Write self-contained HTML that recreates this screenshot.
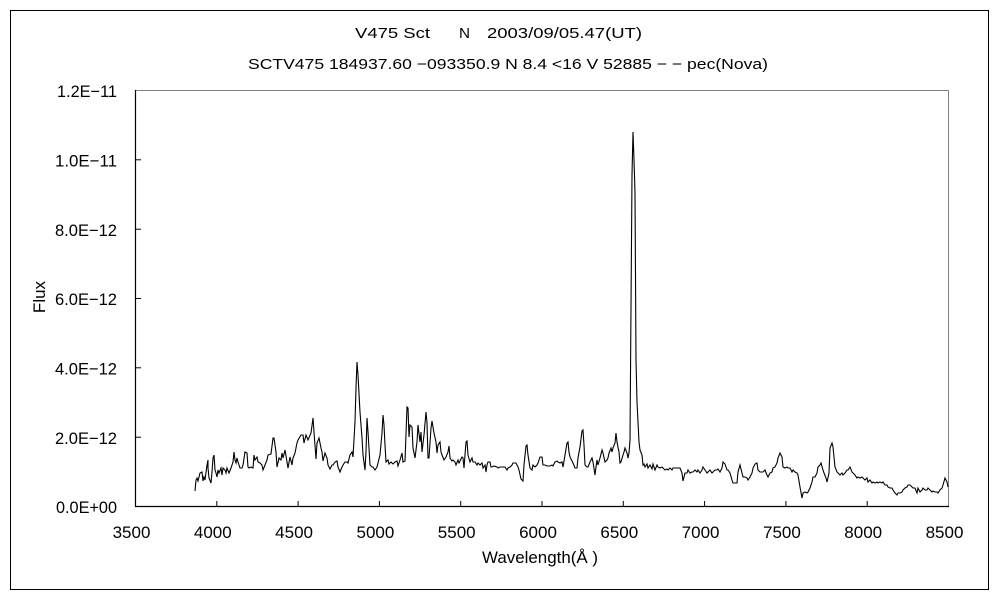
<!DOCTYPE html>
<html><head><meta charset="utf-8"><style>
html,body{margin:0;padding:0;background:#fff;}
svg{display:block;}
text{font-family:"Liberation Sans","Noto Sans CJK JP",sans-serif;fill:#000;}
</style></head><body>
<svg width="1000" height="600" viewBox="0 0 1000 600" xmlns="http://www.w3.org/2000/svg">
<rect x="0" y="0" width="1000" height="600" fill="#fff"/>
<rect x="10.5" y="10.5" width="978" height="579" fill="none" stroke="#000" stroke-width="1"/>
<!-- titles -->
<text x="355" y="38" font-size="15" textLength="75" lengthAdjust="spacingAndGlyphs">V475 Sct</text>
<text x="459" y="38" font-size="15" textLength="11" lengthAdjust="spacingAndGlyphs">N</text>
<text x="487" y="38" font-size="15" textLength="155" lengthAdjust="spacingAndGlyphs">2003/09/05.47(UT)</text>
<text x="248" y="69" font-size="15" textLength="520" lengthAdjust="spacingAndGlyphs">SCTV475 184937.60 −093350.9 N 8.4 &lt;16  V 52885 − − pec(Nova)</text>
<!-- plot frame -->
<line x1="135.5" y1="90.5" x2="948.5" y2="90.5" stroke="#808080" stroke-width="1"/>
<line x1="948.5" y1="90.5" x2="948.5" y2="506.5" stroke="#808080" stroke-width="1"/>
<line x1="135.5" y1="90" x2="135.5" y2="507" stroke="#000" stroke-width="1.2"/>
<line x1="135" y1="506.5" x2="949" y2="506.5" stroke="#000" stroke-width="1.2"/>
<!-- y ticks -->
<g stroke="#000" stroke-width="1">
<line x1="135" y1="437.2" x2="141" y2="437.2"/>
<line x1="135" y1="367.8" x2="141" y2="367.8"/>
<line x1="135" y1="298.5" x2="141" y2="298.5"/>
<line x1="135" y1="229.2" x2="141" y2="229.2"/>
<line x1="135" y1="159.8" x2="141" y2="159.8"/>
</g>
<!-- x ticks -->
<g stroke="#000" stroke-width="1">
<line x1="216.8" y1="501" x2="216.8" y2="506"/>
<line x1="298.1" y1="501" x2="298.1" y2="506"/>
<line x1="379.4" y1="501" x2="379.4" y2="506"/>
<line x1="460.7" y1="501" x2="460.7" y2="506"/>
<line x1="542" y1="501" x2="542" y2="506"/>
<line x1="623.3" y1="501" x2="623.3" y2="506"/>
<line x1="704.6" y1="501" x2="704.6" y2="506"/>
<line x1="785.9" y1="501" x2="785.9" y2="506"/>
<line x1="867.2" y1="501" x2="867.2" y2="506"/>
</g>
<!-- y labels -->
<g font-size="17" text-anchor="end">
<text x="117" y="513" textLength="61" lengthAdjust="spacingAndGlyphs">0.0E+00</text>
<text x="117" y="444" textLength="62" lengthAdjust="spacingAndGlyphs">2.0E−12</text>
<text x="117" y="374.5" textLength="62" lengthAdjust="spacingAndGlyphs">4.0E−12</text>
<text x="117" y="305" textLength="62" lengthAdjust="spacingAndGlyphs">6.0E−12</text>
<text x="117" y="236" textLength="62" lengthAdjust="spacingAndGlyphs">8.0E−12</text>
<text x="117" y="166.5" textLength="62" lengthAdjust="spacingAndGlyphs">1.0E−11</text>
<text x="117" y="97" textLength="60" lengthAdjust="spacingAndGlyphs">1.2E−11</text>
</g>
<!-- x labels -->
<g font-size="17" text-anchor="middle">
<text x="131.5" y="538">3500</text>
<text x="212.8" y="538">4000</text>
<text x="294.1" y="538">4500</text>
<text x="375.4" y="538">5000</text>
<text x="456.7" y="538">5500</text>
<text x="538" y="538">6000</text>
<text x="619.3" y="538">6500</text>
<text x="700.6" y="538">7000</text>
<text x="781.9" y="538">7500</text>
<text x="863.2" y="538">8000</text>
<text x="944.5" y="538">8500</text>
</g>
<text x="482" y="563" font-size="17" textLength="116" lengthAdjust="spacingAndGlyphs">Wavelength(Å )</text>
<text transform="translate(45,297) rotate(-90)" font-size="17" text-anchor="middle">Flux</text>
<!-- spectrum -->
<polyline fill="none" stroke="#000" stroke-width="1.1" stroke-linejoin="miter" points="
195,491 196,480 197,478 198,481 200,473 202,472 203,481 204,477 205,480 207,465 208,460 208,468 209,478 211,483 212,472 213,458 214,455 215,470 216,473 217,477 218,470 219,473 221,468 222,475 223,468 225,470 226,473 227,468 229,473 231,468 233,462 234,452 235,460 236,463 237,458 238,462 240,468 242,468 243,465 245,452 247,453 248,467 249,468 251,467 253,468 254,455 255,460 257,457 258,462 260,463 262,465 263,470 265,465 267,460 268,455 271,454 273,438 274,438 276,452 277,467 279,458 281,460 282,453 283,458 285,450 287,462 288,468 290,457 292,465 293,458 295,453 297,443 298,440 301,435 303,435 304,443 306,435 308,440 311,433 313,418 314,432 316,459 317,443 319,438 321,448 322,452 323,461 325,453 327,458 328,465 330,469 332,465 333,465 335,462 337,461 338,467 340,472 342,467 343,465 345,462 347,462 348,463 350,455 352,452 353,457 355,422 356,388 357,362 358,375 360,412 362,438 363,455 365,470 366,452 367,418 368,432 370,465 372,467 373,467 375,470 377,467 378,463 380,455 382,433 383,415 384,425 385,445
386,462 388,460 389,464 391,462 393,464 395,462 397,461 398,466 400,460 402,453 403,462 405,461 407,407 408,408 409,437 410,425 412,427 413,448 415,458 417,442 418,425 420,442 421,432 422,452 424,435 426,412 427,423 428,458 429,458 431,428 432,421 434,433 436,442 437,453 438,445 440,442 441,452 442,455 444,460 446,457 448,452 449,446 450,458 452,461 453,460 455,462 456,465 458,460 459,463 460,461 462,457 463,458 464,468 466,442 467,441 468,455 470,462 472,458 473,462 475,462 477,465 478,463 480,465 482,463 483,468 485,465 486,472 487,465 488,462 490,462 491,467 492,467 494,466 497,467 498,468 500,467 502,467 503,467 505,467 507,470 508,468 510,467 512,465 513,463 516,463 518,467 519,470 521,479 523,481 524,465 526,446 527,445 528,455 530,468 532,470 533,465 535,467 537,465 538,463 540,457 542,457 543,465 545,465 547,466 548,466 550,466 552,465 553,466 555,462 557,461 558,462 560,463 562,462 563,467 565,455 567,443 568,442 569,452 570,457 572,461 573,463 575,468 577,468 578,458 580,447 582,431 583,430
584,445 585,465 587,467 588,467 590,462 592,458 593,462 595,475 596,467 597,460 598,465 600,458 602,450 603,453 605,462 607,460 608,458 609,453 611,448 612,452 613,448 615,443 616,433 617,442 619,452 620,463 621,462 623,455 624,452 625,448 627,453 628,458 629,453 630,440 632,175 633,132 634,160 635,193 636,360 637,402 639,442 640,450 642,455 643,465 644,464 645,467 647,464 648,468 650,465 652,469 653,464 655,470 657,465 658,467 660,468 662,467 663,468 665,470 667,469 668,470 670,468 672,470 673,468 677,468 680,468 682,473 683,481 685,473 687,473 688,470 690,473 692,472 693,472 695,470 697,472 698,470 700,473 702,470 703,467 705,470 707,473 708,472 710,470 712,473 713,472 715,470 717,470 718,469 720,472 722,468 723,462 725,464 727,470 728,470 730,473 732,480 733,483 735,483 737,483 738,472 740,465 742,473 743,477 745,477 747,478 748,480 750,477 752,473 753,468 755,464 757,463 758,470 760,472 762,472 763,472 765,470 767,475 768,477
770,473 772,472 773,468 775,467 777,463 778,458 780,453 782,457 783,467 785,468 787,467 788,468 790,468 792,472 793,470 795,472 797,473 798,475 800,487 802,498 803,493 805,492 807,493 808,492 810,488 812,482 813,477 815,477 817,473 818,467 820,465 821,463 823,470 824,473 826,478 827,482 829,473 830,448 832,443 833,447 834,457 835,467 837,472 838,473 840,475 842,473 843,475 845,473 847,470 848,470 850,467 852,472 853,473 855,475 857,478 858,477 860,478 862,477 863,478 865,480 867,478 868,482 870,480 872,483 873,482 875,483 877,482 878,483 880,482 882,483 883,482 885,485 887,485 888,487 890,488 892,488 893,490 895,493 897,495 898,493 900,493 902,492 903,490 905,488 907,487 908,485 910,485 912,487 913,488 915,488 917,493 918,488 920,492 922,490 923,488 925,490 927,490 928,488 930,490 932,492 933,491 935,492 937,492 938,493 940,490 942,488 943,485 945,478 947,482 948,487"/>
</svg>
</body></html>
